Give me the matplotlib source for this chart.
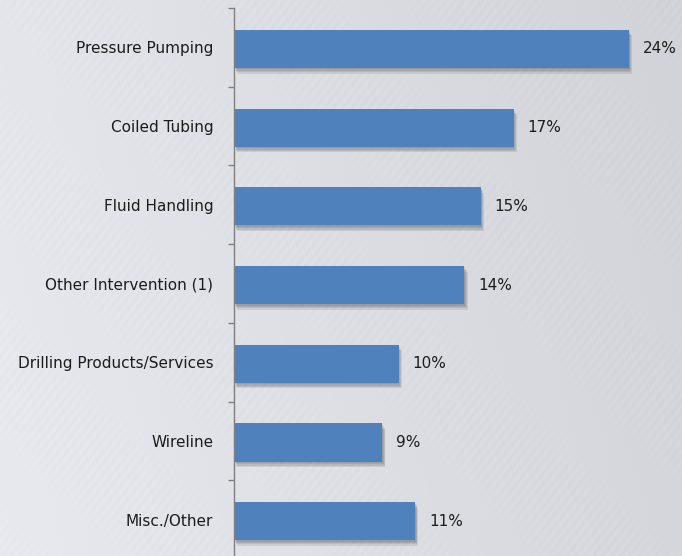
import numpy as np
import matplotlib
matplotlib.use("Agg")
import matplotlib.pyplot as plt
import matplotlib.patheffects as pe

categories = ["Pressure Pumping", "Coiled Tubing", "Fluid Handling",
              "Other Intervention (1)", "Drilling Products/Services",
              "Wireline", "Misc./Other"]
shares = [24, 17, 15, 14, 10, 9, 11]
labels = ["24%", "17%", "15%", "14%", "10%", "9%", "11%"]

W, H = 682, 556
fig = plt.figure(figsize=(W / 100, H / 100), dpi=100)

# brushed-metal style grey background, streaks rising to the right
bg = fig.add_axes([0, 0, 1, 1])
xx, yy = np.meshgrid(np.linspace(0, 1, W), np.linspace(0, 1, H))
shade = 0.905 - 0.075 * xx + 0.015 * yy
u = xx * W + yy * H * 0.8
v = xx * W - yy * H
streak = 0.008 * np.sin(u * 0.7) * (0.5 + 0.5 * np.sin(v * 0.03)) \
       + 0.005 * np.sin(u * 1.9 + 1.3) * np.sin(v * 0.011 + 0.7)
img = np.clip(shade + streak, 0, 1)
rgb = np.dstack([img * 0.985, img * 0.995, img * 1.02])
bg.imshow(np.clip(rgb, 0, 1), aspect="auto", extent=[0, 1, 0, 1])
bg.axis("off")

left_px, top_px, bottom_px = 234, 8, 559
ax = fig.add_axes([left_px / W, 1 - bottom_px / H, 1 - left_px / W, (bottom_px - top_px) / H])
ax.patch.set_alpha(0)

n = len(categories)
pos = np.arange(n) + 0.02
shadow = [pe.SimplePatchShadow(offset=(0.6 * k, -1.0 * k), alpha=0.10, shadow_rgbFace="#222222")
          for k in (4, 3, 2, 1)]
bars = ax.barh(pos, shares, height=0.485, color="#4f81bd", edgecolor="none",
               path_effects=shadow + [pe.Normal()])
ax.set_ylim(n - 0.5, -0.5)
ax.set_xlim(0, (W - left_px) / 16.45)

font = dict(fontsize=11, family="DejaVu Sans", color="#1c1c1c")
for b, lab in zip(bars, labels):
    ax.text(b.get_width() + 0.85, b.get_y() + b.get_height() / 2, lab,
            va="center", ha="left", **font)

ax.set_yticks(np.arange(n))
ax.set_yticklabels(categories, **font)
ax.tick_params(axis="y", which="major", length=0, pad=15)
ax.set_yticks(np.arange(-0.5, n, 1.0), minor=True)
ax.tick_params(axis="y", which="minor", length=4, width=1, color="#7f7f7f", direction="out")
ax.set_xticks([])
for s in ["top", "right", "bottom"]:
    ax.spines[s].set_visible(False)
ax.spines["left"].set_color("#7f7f7f")
ax.spines["left"].set_linewidth(1)

fig.savefig("out.png", dpi=100)
